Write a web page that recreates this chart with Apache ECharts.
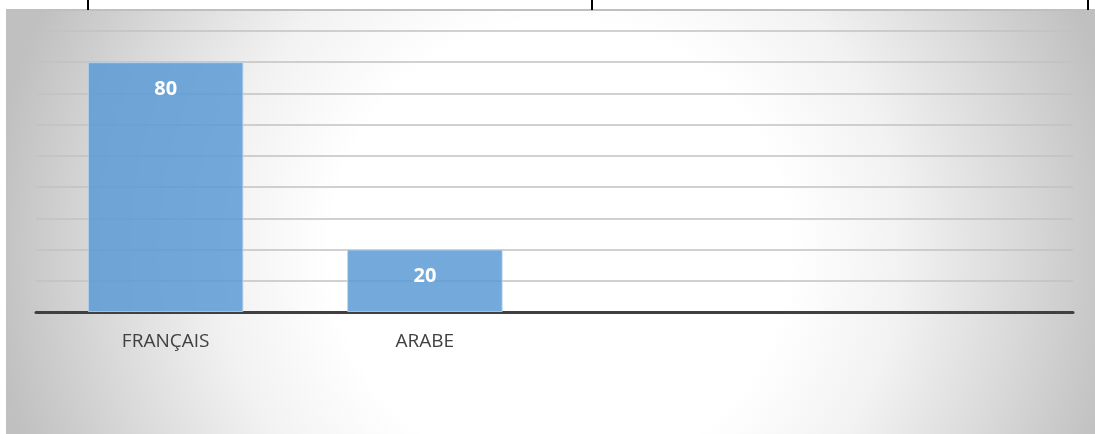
<!DOCTYPE html>
<html>
<head>
<meta charset="utf-8">
<script src="https://cdn.jsdelivr.net/npm/echarts@6/dist/echarts.min.js"></script>
<style>
  html, body { margin: 0; padding: 0; background: #fff; }
  #chart { width: 1095px; height: 434px; }
</style>
</head>
<body>
<div id="chart"></div>
<script>
const categories = ['FRANÇAIS', 'ARABE', '', '']
const values = [80, 20, null, null]
const yMin = 0
const yMax = 90
const yStep = 10

const chart = echarts.init(document.getElementById('chart'))

chart.setOption({
  backgroundColor: '#ffffff',
  animation: false,
  graphic: [
    {
      type: 'rect',
      z: -10,
      silent: true,
      shape: { x: 6, y: 10, width: 1089, height: 424 },
      style: {
        fill: {
          type: 'radial', x: 560, y: 250, r: 570, global: true,
          colorStops: [
            { offset: 0, color: '#ffffff' },
            { offset: 0.4, color: '#ffffff' },
            { offset: 0.6, color: '#f2f2f2' },
            { offset: 0.8, color: '#dadada' },
            { offset: 1, color: '#c0c0c0' },
          ],
        },
      },
    },
    { type: 'rect', z: -9, silent: true, shape: { x: 6, y: 9, width: 1089, height: 2 }, style: { fill: '#bfbfbf' } },
    { type: 'rect', z: 10, silent: true, shape: { x: 87, y: 0, width: 2, height: 10 }, style: { fill: '#000' } },
    { type: 'rect', z: 10, silent: true, shape: { x: 591, y: 0, width: 2, height: 10 }, style: { fill: '#000' } },
    { type: 'rect', z: 10, silent: true, shape: { x: 1087, y: 0, width: 2, height: 10 }, style: { fill: '#000' } },
  ],
  grid: { left: 36, right: 22, top: 31, bottom: 122, containLabel: false },
  xAxis: {
    type: 'category',
    data: categories,
    axisLine: { lineStyle: { color: '#404040', width: 3 } },
    axisTick: { show: false },
    axisLabel: {
      color: '#404040',
      fontFamily: 'Open Sans',
      fontSize: 19,
      margin: 20,
      interval: 0,
    },
  },
  yAxis: {
    type: 'value',
    min: yMin,
    max: yMax,
    interval: yStep,
    axisLabel: { show: false },
    axisLine: { show: false },
    axisTick: { show: false },
    splitLine: { lineStyle: { color: '#c2c2c2', width: 1.5 } },
  },
  series: [
    {
      type: 'bar',
      data: values,
      barCategoryGap: '40%',
      itemStyle: {
        color: 'rgba(91, 155, 213, 0.85)',
        borderColor: 'rgba(190, 215, 240, 0.8)',
        borderWidth: 1,
      },
      label: {
        show: true,
        position: 'insideTop',
        distance: 17,
        color: '#ffffff',
        fontFamily: 'Open Sans',
        fontWeight: 'bold',
        fontSize: 20,
      },
    },
  ],
})
</script>
</body>
</html>
